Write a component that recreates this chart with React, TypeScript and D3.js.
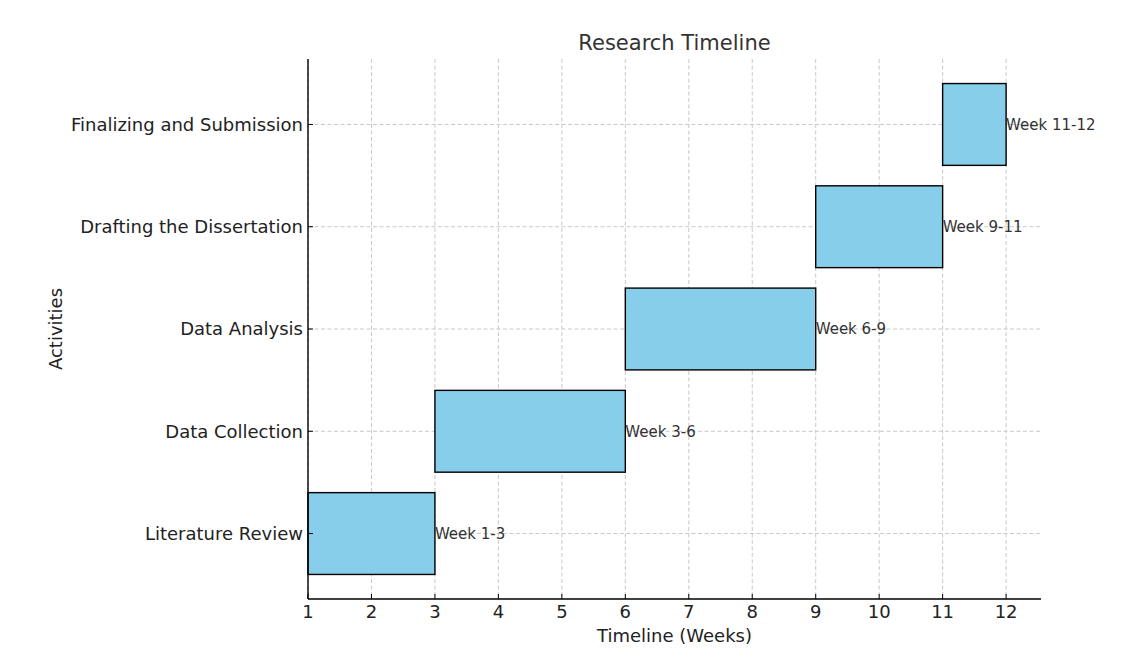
import React from "react";
import * as d3 from "d3";

const activities = [
  "Literature Review",
  "Data Collection",
  "Data Analysis",
  "Drafting the Dissertation",
  "Finalizing and Submission",
];
const startWeeks = [1, 3, 6, 9, 11];
const endWeeks = [3, 6, 9, 11, 12];
const barLabels = ["Week 1-3", "Week 3-6", "Week 6-9", "Week 9-11", "Week 11-12"];
const xTicks = [1, 2, 3, 4, 5, 6, 7, 8, 9, 10, 11, 12];

const W = 1141;
const H = 668;
const left = 308;
const right = 1041;
const top = 59;
const bottom = 599;
const font = "DejaVu Sans, sans-serif";

export default function App() {
  const x = d3.scaleLinear().domain([1, 12.55]).range([left, right]);
  const y = d3.scaleLinear().domain([-0.64, 4.64]).range([bottom, top]);
  const barH = y(0) - y(0.8);

  return (
    <svg width={W} height={H} style={{ position: "absolute", left: 0, top: 0 }}>
      <rect width={W} height={H} fill="#fff" />
      {xTicks.map((t) => (
        <line key={"gx" + t} x1={x(t)} x2={x(t)} y1={top} y2={bottom} stroke="#c8c8c8" strokeWidth={1} strokeDasharray="4,2.5" />
      ))}
      {activities.map((a, i) => (
        <line key={"gy" + i} x1={left} x2={right} y1={y(i)} y2={y(i)} stroke="#c8c8c8" strokeWidth={1} strokeDasharray="4,2.5" />
      ))}
      {activities.map((a, i) => (
        <rect
          key={"b" + i}
          x={x(startWeeks[i])}
          y={y(i) - barH / 2}
          width={x(endWeeks[i]) - x(startWeeks[i])}
          height={barH}
          fill="#87CEEB"
          stroke="#000"
          strokeWidth={1.4}
        />
      ))}
      {activities.map((a, i) => (
        <text key={"l" + i} x={x(endWeeks[i])} y={y(i)} dy="0.35em" fontFamily={font} fontSize={15} fill="#333">
          {barLabels[i]}
        </text>
      ))}
      <line x1={left} x2={left} y1={top} y2={bottom} stroke="#000" strokeWidth={1.4} />
      <line x1={left} x2={right} y1={bottom} y2={bottom} stroke="#000" strokeWidth={1.4} />
      {xTicks.map((t) => (
        <g key={"xt" + t}>
          <line x1={x(t)} x2={x(t)} y1={bottom} y2={bottom - 5} stroke="#000" strokeWidth={1} />
          <text x={x(t)} y={bottom + 19} textAnchor="middle" fontFamily={font} fontSize={18} fill="#222">
            {t}
          </text>
        </g>
      ))}
      {activities.map((a, i) => (
        <g key={"yt" + i}>
          <line x1={left} x2={left + 5} y1={y(i)} y2={y(i)} stroke="#000" strokeWidth={1} />
          <text x={left - 5} y={y(i)} dy="0.35em" textAnchor="end" fontFamily={font} fontSize={18} fill="#222">
            {a}
          </text>
        </g>
      ))}
      <text x={(left + right) / 2} y={50} textAnchor="middle" fontFamily={font} fontSize={21} fill="#333">
        Research Timeline
      </text>
      <text x={(left + right) / 2} y={642} textAnchor="middle" fontFamily={font} fontSize={18} fill="#222">
        Timeline (Weeks)
      </text>
      <text transform={`translate(62, ${(top + bottom) / 2}) rotate(-90)`} textAnchor="middle" fontFamily={font} fontSize={18} fill="#222">
        Activities
      </text>
    </svg>
  );
}
